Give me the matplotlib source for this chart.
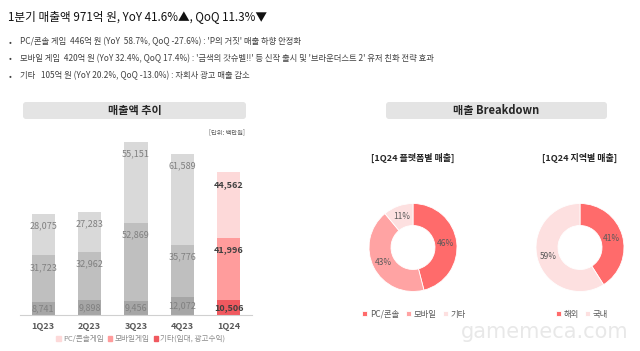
import matplotlib
matplotlib.use('Agg')
import matplotlib.pyplot as plt
from matplotlib.patches import FancyBboxPatch, Patch
import numpy as np

plt.rcParams['font.family'] = ['Noto Sans CJK KR', 'DejaVu Sans']

# data
quarters = ['1Q23', '2Q23', '3Q23', '4Q23', '1Q24']
pc_console = [28075, 27283, 55151, 61589, 44562]
mobile = [31723, 32962, 52869, 35776, 41996]
others = [8741, 9898, 9456, 12072, 10506]
bar_legend = ['PC/콘솔게임', '모바일게임', '기타(임대, 광고수익)']

platform_labels = ['PC/콘솔', '모바일', '기타']
platform_share = [46, 43, 11]
region_labels = ['해외', '국내']
region_share = [41, 59]

title = '1분기 매출액 971억 원, YoY 41.6%▲, QoQ 11.3%▼'
bullets = [
    "PC/콘솔 게임  446억 원 (YoY  58.7%, QoQ -27.6%) : 'P의 거짓' 매출 하향 안정화",
    "모바일 게임  420억 원 (YoY 32.4%, QoQ 17.4%) : '금색의 갓슈벨!!' 등 신작 출시 및 '브라운더스트 2' 유저 친화 전략 효과",
    "기타   105억 원 (YoY 20.2%, QoQ -13.0%) : 자회사 광고 매출 감소",
]

W, H = 640, 351
fig = plt.figure(figsize=(W / 100, H / 100), dpi=100)
fig.patch.set_facecolor('white')


def fx(x):
    return x / W


def fy(y):
    return 1 - y / H


def header_box(x0, x1, y0, y1, text):
    box = FancyBboxPatch((x0 / 100, (H - y1) / 100), (x1 - x0) / 100, (y1 - y0) / 100,
                         boxstyle='round,pad=0,rounding_size=0.03',
                         transform=fig.dpi_scale_trans, fc='#e4e4e4', ec='none')
    fig.add_artist(box)
    fig.text(fx((x0 + x1) / 2), fy((y0 + y1) / 2), text, ha='center', va='center',
             fontsize=8, fontweight='bold', color='#262626')


# top text
fig.text(fx(8), fy(17), title, fontsize=8.4, ha='left', va='center', color='#111111',
         fontweight='medium')
for i, line in enumerate(bullets):
    yy = [42, 59, 76][i]
    fig.text(fx(9), fy(yy), '•', fontsize=6, ha='left', va='center', color='#404040')
    fig.text(fx(20), fy(yy), line, fontsize=6, ha='left', va='center', color='#404040')

# stacked bar chart
header_box(23, 246, 102, 119, '매출액 추이')
fig.text(fx(245), fy(132), '[단위: 백만원]', fontsize=4.5, ha='right', va='center', color='#595959')

ax = fig.add_axes([fx(20), fy(315), (252 - 20) / W, (315 - 131) / H])
x = np.arange(len(quarters))
gray = ['#a6a6a6', '#bfbfbf', '#d9d9d9']
red = ['#f0595f', '#ff9c9c', '#fdd9d9']
seg_data = [others, mobile, pc_console]
bottom = np.zeros(len(quarters))
for k, vals in enumerate(seg_data):
    vals = np.array(vals)
    cols = [gray[k]] * 4 + [red[k]]
    ax.bar(x, vals, bottom=bottom, width=0.5, color=cols, edgecolor='none')
    for i in range(len(quarters)):
        top = bottom[i] + vals[i]
        ly = top - min(8150, vals[i] / 2)
        hl = i == len(quarters) - 1
        ax.text(x[i], ly, f'{vals[i]:,}', ha='center', va='center', fontsize=6.5,
                color='#404040' if hl else '#808080',
                fontweight='bold' if hl else 'normal')
    bottom += vals

ax.set_xlim(-0.5, 4.5)
ax.set_ylim(0, 125000)
ax.set_xticks(x)
ax.set_xticklabels(quarters, fontsize=6.5, fontweight='bold', color='#595959')
ax.tick_params(axis='x', length=0, pad=5)
ax.set_yticks([])
for s in ['top', 'right', 'left']:
    ax.spines[s].set_visible(False)
ax.spines['bottom'].set_color('#d0d0d0')
ax.patch.set_alpha(0)

handles = [Patch(color=red[2]), Patch(color=red[1]), Patch(color=red[0])]
fig.legend(handles, bar_legend, loc='center', bbox_to_anchor=(fx(141), fy(339)), ncol=3,
           frameon=False, fontsize=5.5, handlelength=0.6, handleheight=0.6,
           handletextpad=0.3, columnspacing=0.5, labelcolor='#8c8c8c')

# donuts
header_box(386, 607, 102, 119, '매출 Breakdown')


def donut(cx, cy, r, vals, colors, labels, subtitle, leg_x, leg_y):
    axd = fig.add_axes([fx(cx - r), fy(cy + r), 2 * r / W, 2 * r / H])
    wedges, _, autot = axd.pie(vals, colors=colors, startangle=90, counterclock=False,
                               radius=1, autopct=lambda p: f'{round(p)}%', pctdistance=0.75,
                               wedgeprops=dict(width=0.5, edgecolor='white', linewidth=0.6),
                               textprops=dict(fontsize=6, color='#595959'))
    axd.set_xlim(-1, 1)
    axd.set_ylim(-1, 1)
    fig.text(fx(cx), fy(158), subtitle, ha='center', va='center', fontsize=6.5,
             fontweight='bold', color='#262626')
    fig.legend(wedges, labels, loc='center', bbox_to_anchor=(fx(leg_x), fy(leg_y)),
               ncol=len(labels), frameon=False, fontsize=6, handlelength=0.6,
               handleheight=0.6, handletextpad=0.3, columnspacing=0.8, labelcolor='#595959')


donut(413, 247.5, 44, platform_share, ['#ff6b6b', '#ffa3a3', '#fde0e0'], platform_labels,
      '[1Q24 플랫폼별 매출]', 414, 314)
donut(580, 247.5, 44, region_share, ['#ff6b6b', '#fde0e0'], region_labels,
      '[1Q24 지역별 매출]', 582, 314)

# watermark
fig.text(fx(545), fy(332), 'gamemeca.com', ha='center', va='center', fontsize=15,
         color='#e8e8e8', family='DejaVu Sans')

fig.savefig('out.png', dpi=100)
